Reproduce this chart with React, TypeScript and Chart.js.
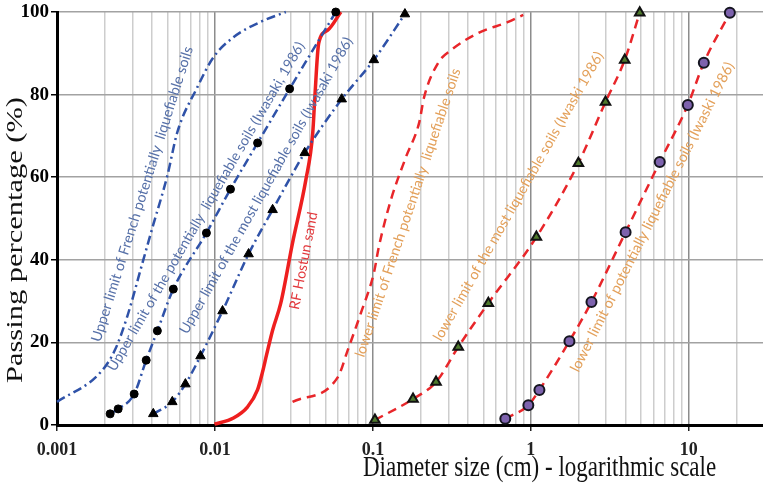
import React, { useEffect, useRef } from 'react';
import { Chart, registerables } from 'chart.js';

Chart.register(...registerables);

// Decade ticks of the diameter axis and their labels
const xTickValues = [0.001, 0.01, 0.1, 1, 10];
const xTickLabels = ['0.001', '0.01', '0.1', '1', '10'];
const xMin = 0.001;
const xMax = 29.5;
const yTickStep = 20;

// Grain-size curves: diameter (cm) and passing percentage (%)
const frenchUpperD = [0.001, 0.00187, 0.00233, 0.00278, 0.00352, 0.00407, 0.00499, 0.00578, 0.00774, 0.00977, 0.0131, 0.0194, 0.0281];
const frenchUpperP = [5.6, 12.6, 18.2, 26.2, 40.0, 48.5, 60.3, 70.9, 81.8, 89, 93.9, 97.6, 100];

const iwasakiUpperD = [0.00217, 0.00244, 0.00308, 0.00367, 0.00432, 0.00545, 0.00883, 0.01254, 0.01862, 0.0297, 0.0582];
const iwasakiUpperP = [2.7, 3.9, 7.5, 15.7, 22.8, 32.9, 46.5, 57.1, 68.3, 81.4, 100];

const mostUpperD = [0.00407, 0.00537, 0.0065, 0.0081, 0.01117, 0.01633, 0.02318, 0.037, 0.0635, 0.1014, 0.1595];
const mostUpperP = [2.7, 5.6, 9.9, 16.7, 27.6, 41.4, 52.1, 65.9, 78.9, 88.4, 99.5];

const hostunD = [0.00993, 0.0131, 0.0161, 0.0186, 0.02, 0.0212, 0.0232, 0.0261, 0.031, 0.0376, 0.0416, 0.0429, 0.0454, 0.0518, 0.0627];
const hostunP = [0.2, 1.7, 4.4, 8.5, 12.8, 16.9, 23.0, 29.5, 44.1, 59.3, 70.7, 79.4, 92.5, 95.6, 100];

const frenchLowerD = [0.031, 0.06, 0.0694, 0.0839, 0.1014, 0.109, 0.13, 0.162, 0.196, 0.211, 0.259, 0.313, 0.464, 0.719, 0.895];
const frenchLowerP = [5.6, 11.6, 18.2, 27.1, 36.8, 43.1, 54.5, 64.9, 73.1, 79.4, 87.7, 90.8, 94.9, 97.6, 99.3];

const mostLowerD = [0.103, 0.1795, 0.251, 0.347, 0.538, 1.084, 2.0, 2.97, 3.93, 4.89];
const mostLowerP = [1.2, 6.3, 10.4, 18.9, 29.5, 45.5, 63.4, 78.2, 88.4, 99.8];

const iwasakiLowerD = [0.689, 0.964, 1.133, 1.755, 2.42, 3.98, 6.55, 9.86, 12.45, 18.2];
const iwasakiLowerP = [1.5, 4.8, 8.5, 20.3, 29.8, 46.7, 63.7, 77.5, 87.7, 99.8];

// Curve captions, written along each curve
const captionTexts = [
  'Upper limit of French potentially  liquefiable soils',
  'Upper limit of the potentially  liquefiable soils (Iwasaki, 1986)',
  'Upper limit of the most liquefiable soils (Iwasaki 1986)',
  'RF Hostun sand',
  'lower limit of French potentially  liquefiable soils',
  'lower limit of the most liquefiable soils (Iwaski 1986)',
  'lower limit of potentially liquefiable soils (Iwaski 1986)',
];
const captionD = [0.00188, 0.00233, 0.00668, 0.0339, 0.0877, 0.27, 2.0];
const captionP = [19.9, 12.8, 21.8, 27.8, 16.2, 20.1, 12.6];

const BLUE_LINE = '#2f52a8';
const RED_LINE = '#e8262a';
const BLUE_TEXT = '#5670a8';
const ORANGE_TEXT = '#e3a05a';
const RED_TEXT = '#e2383c';

const captionStyle = [
  { angle: 72.5, length: 309, color: BLUE_TEXT },
  { angle: 59.8, length: 378, color: BLUE_TEXT },
  { angle: 60.6, length: 338, color: BLUE_TEXT },
  { angle: 79, length: 99, color: RED_TEXT },
  { angle: 71.4, length: 304, color: ORANGE_TEXT },
  { angle: 60.4, length: 330, color: ORANGE_TEXT },
  { angle: 63.1, length: 345, color: ORANGE_TEXT },
];

const toPoints = (d: number[], p: number[]) => d.map((x, i) => ({ x, y: p[i] }));

const isDecade = (v: number) => Math.abs(Math.log10(v) - Math.round(Math.log10(v))) < 1e-9;

// Every 1..9 multiple of each decade, for the log grid
const gridValues: number[] = [];
for (let e = -3; e <= 1; e++) {
  for (let m = 1; m <= 9; m++) {
    const v = parseFloat((m * Math.pow(10, e)).toPrecision(6));
    if (v <= xMax) gridValues.push(v);
  }
}

const textPlugin = {
  id: 'curveText',
  afterDraw(chart: any) {
    const { ctx, scales } = chart;
    const xs = scales.x;
    const ys = scales.y;

    captionTexts.forEach((text, i) => {
      const st = captionStyle[i];
      const px = xs.getPixelForValue(captionD[i]);
      const py = ys.getPixelForValue(captionP[i]);
      ctx.save();
      ctx.font = '12px Lato';
      const w = ctx.measureText(text).width;
      const size = (12 * st.length) / w;
      ctx.font = `${size.toFixed(2)}px Lato`;
      ctx.translate(px, py);
      ctx.rotate((-st.angle * Math.PI) / 180);
      ctx.fillStyle = st.color;
      ctx.textAlign = 'left';
      ctx.textBaseline = 'alphabetic';
      ctx.fillText(text, 0, 0);
      ctx.restore();
    });

    // Axis titles
    ctx.save();
    ctx.fillStyle = '#111';
    ctx.font = '23px "Liberation Serif"';
    ctx.translate(363, 476);
    ctx.scale(1, 1.3);
    ctx.textAlign = 'left';
    ctx.textBaseline = 'alphabetic';
    ctx.fillText('Diameter size (cm) - logarithmic scale', 0, 0);
    ctx.restore();

    ctx.save();
    ctx.fillStyle = '#111';
    ctx.font = '23px "Liberation Serif"';
    const yTitle = 'Passing percentage (%)';
    const tw = ctx.measureText(yTitle).width;
    ctx.translate(16, 240);
    ctx.rotate(-Math.PI / 2);
    ctx.scale(286 / tw, 1);
    ctx.textAlign = 'center';
    ctx.textBaseline = 'middle';
    ctx.fillText(yTitle, 0, 0);
    ctx.restore();
  },
};

export default function App() {
  const canvasRef = useRef<HTMLCanvasElement | null>(null);

  useEffect(() => {
    if (!canvasRef.current) return;
    const blueDashDot = [9, 4, 2, 4];
    const redDash = [9, 6];
    const chart = new Chart(canvasRef.current, {
      type: 'line',
      data: {
        datasets: [
          {
            label: 'Upper limit of French potentially liquefiable soils',
            data: toPoints(frenchUpperD, frenchUpperP),
            borderColor: BLUE_LINE,
            borderWidth: 2.5,
            borderDash: blueDashDot,
            pointRadius: 0,
            cubicInterpolationMode: 'monotone',
            clip: false,
          },
          {
            label: 'Upper limit of the potentially liquefiable soils (Iwasaki, 1986)',
            data: toPoints(iwasakiUpperD, iwasakiUpperP),
            borderColor: BLUE_LINE,
            borderWidth: 2.5,
            borderDash: blueDashDot,
            pointStyle: 'circle',
            pointRadius: 4,
            pointBackgroundColor: '#000',
            pointBorderColor: '#000',
            pointBorderWidth: 1,
            cubicInterpolationMode: 'monotone',
            clip: false,
          },
          {
            label: 'Upper limit of the most liquefiable soils (Iwasaki 1986)',
            data: toPoints(mostUpperD, mostUpperP),
            borderColor: BLUE_LINE,
            borderWidth: 2.5,
            borderDash: blueDashDot,
            pointStyle: 'triangle',
            pointRadius: 5.5,
            pointBackgroundColor: '#000',
            pointBorderColor: '#000',
            pointBorderWidth: 1,
            cubicInterpolationMode: 'monotone',
            clip: false,
          },
          {
            label: 'RF Hostun sand',
            data: toPoints(hostunD, hostunP),
            borderColor: '#ee1f1f',
            borderWidth: 3.5,
            pointRadius: 0,
            cubicInterpolationMode: 'monotone',
            clip: false,
          },
          {
            label: 'lower limit of French potentially liquefiable soils',
            data: toPoints(frenchLowerD, frenchLowerP),
            borderColor: RED_LINE,
            borderWidth: 2.5,
            borderDash: redDash,
            pointRadius: 0,
            cubicInterpolationMode: 'monotone',
            clip: false,
          },
          {
            label: 'lower limit of the most liquefiable soils (Iwaski 1986)',
            data: toPoints(mostLowerD, mostLowerP),
            borderColor: RED_LINE,
            borderWidth: 2.5,
            borderDash: redDash,
            pointStyle: 'triangle',
            pointRadius: 5.5,
            pointBackgroundColor: '#4f7a2c',
            pointBorderColor: '#111',
            pointBorderWidth: 2,
            cubicInterpolationMode: 'monotone',
            clip: false,
          },
          {
            label: 'lower limit of potentially liquefiable soils (Iwaski 1986)',
            data: toPoints(iwasakiLowerD, iwasakiLowerP),
            borderColor: RED_LINE,
            borderWidth: 2.5,
            borderDash: redDash,
            pointStyle: 'circle',
            pointRadius: 5,
            pointBackgroundColor: '#7d62ad',
            pointBorderColor: '#151520',
            pointBorderWidth: 2,
            cubicInterpolationMode: 'monotone',
            clip: false,
          },
        ],
      },
      options: {
        animation: false,
        responsive: false,
        events: [],
        layout: { autoPadding: false, padding: { left: 0, right: 0, top: 12, bottom: 0 } },
        plugins: {
          legend: { display: false },
          tooltip: { enabled: false },
          title: { display: false },
        },
        scales: {
          x: {
            type: 'logarithmic',
            min: xMin,
            max: xMax,
            afterBuildTicks: (scale: any) => {
              scale.ticks = gridValues.map((v) => ({ value: v, major: false }));
            },
            afterFit: (scale: any) => {
              scale.height = 60;
              scale.paddingLeft = 0;
              scale.paddingRight = 0;
            },
            ticks: {
              autoSkip: false,
              maxRotation: 0,
              minRotation: 0,
              padding: 9,
              color: '#222',
              font: { family: 'Liberation Serif', size: 18, weight: 'bold' },
              callback: (value: any) => {
                const v = Number(value);
                const idx = xTickValues.findIndex((t) => Math.abs(t - v) / t < 1e-9);
                return idx >= 0 ? xTickLabels[idx] : '';
              },
            },
            grid: {
              color: (ctx: any) => (ctx.tick && isDecade(ctx.tick.value) ? '#8c8c8c' : '#cdcdcd'),
              lineWidth: 1.5,
              tickLength: 6,
              tickColor: (ctx: any) => (ctx.tick && isDecade(ctx.tick.value) ? '#222' : 'rgba(0,0,0,0)'),
            },
            border: { color: '#000', width: 3 },
          },
          y: {
            min: 0,
            max: 100,
            afterFit: (scale: any) => {
              scale.width = 57;
              scale.paddingTop = 0;
              scale.paddingBottom = 0;
            },
            ticks: {
              stepSize: yTickStep,
              padding: 2,
              color: '#000',
              font: { family: 'Liberation Serif', size: 19, weight: 'bold' },
            },
            grid: {
              color: '#a2a2a2',
              lineWidth: 1.5,
              tickLength: 6,
              tickColor: '#000',
            },
            border: { color: '#000', width: 3 },
          },
        },
      },
      plugins: [textPlugin],
    } as any);
    return () => chart.destroy();
  }, []);

  return (
    <div style={{ position: 'absolute', left: 0, top: 0, width: 763, height: 485, background: '#fff' }}>
      <canvas ref={canvasRef} width={763} height={485} style={{ display: 'block' }} />
    </div>
  );
}
